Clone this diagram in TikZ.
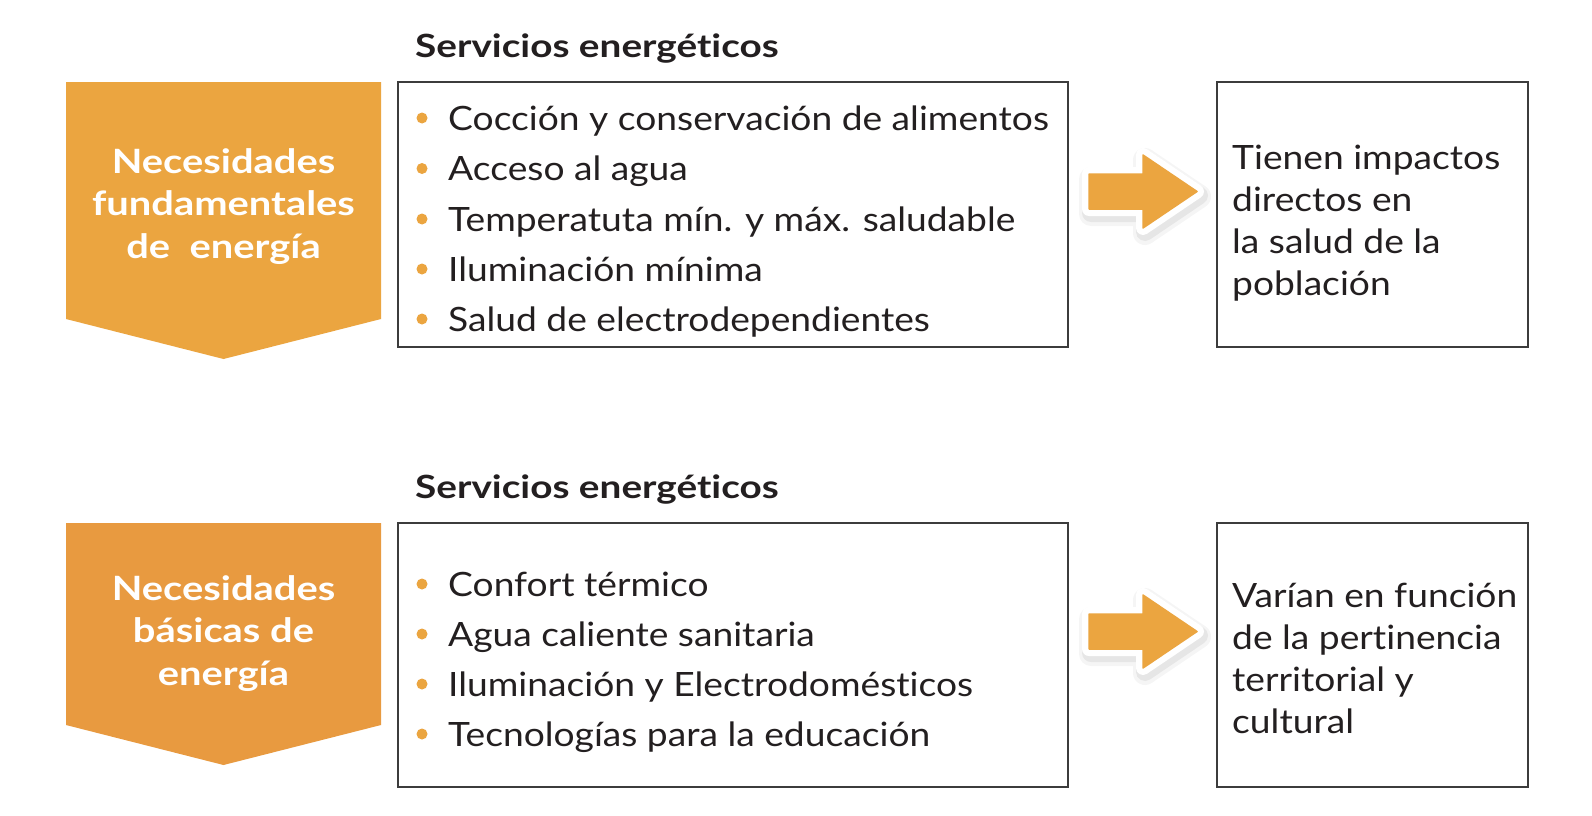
\documentclass[tikz,border=0pt]{standalone}
\usepackage{fontspec}
\setmainfont{Lato}[Ligatures=NoCommon]
\newfontfamily\bodyfont{Lato}[FakeStretch=1.11, Ligatures=NoCommon]
\newfontfamily\headfont{Lato}[FakeStretch=1.21, Ligatures=NoCommon]
\newfontfamily\pentafont{Lato}[FakeStretch=1.19, Ligatures=NoCommon]
\definecolor{orangeA}{HTML}{EBA540}
\definecolor{orangeB}{HTML}{E89A40}
\definecolor{textc}{HTML}{231F20}
\definecolor{borderc}{HTML}{3C3C3C}
\tikzset{
  box/.style={draw=borderc, line width=1.2pt, fill=white, inner sep=0pt},
  heading/.style={anchor=base west, inner sep=0pt, text=textc, font=\headfont\fontsize{32}{40}\selectfont\bfseries},
  item/.style={anchor=base west, inner sep=0pt, text=textc, font=\bodyfont\fontsize{33.5}{42}\selectfont},
  bulletdot/.style={fill=orangeA, draw=none},
  righttext/.style={anchor=base west, inner sep=0pt, text=textc, font=\bodyfont\fontsize{33.5}{42}\selectfont},
  pentatext/.style={anchor=base, inner sep=0pt, text=white, font=\pentafont\fontsize{33.5}{42.5}\selectfont\bfseries},
  blockarrow/.pic={
    \path[fill=black, opacity=0.04, line width=24pt, draw=black, line join=round, shift={(2,5)}]
      (0,-17.5) -- (54,-17.5) -- (54,-36.5) -- (108,0) -- (54,36.5) -- (54,17.5) -- (0,17.5) -- cycle;
    \path[fill=black, opacity=0.06, line width=18pt, draw=black, line join=round, shift={(2,4)}]
      (0,-17.5) -- (54,-17.5) -- (54,-36.5) -- (108,0) -- (54,36.5) -- (54,17.5) -- (0,17.5) -- cycle;
    \path[fill=white, draw=white, line width=14pt, line join=round]
      (0,-17.5) -- (54,-17.5) -- (54,-36.5) -- (108,0) -- (54,36.5) -- (54,17.5) -- (0,17.5) -- cycle;
    \path[fill=orangeA, draw=orangeA, line width=1.5pt, line join=round]
      (0,-17.5) -- (54,-17.5) -- (54,-36.5) -- (108,0) -- (54,36.5) -- (54,17.5) -- (0,17.5) -- cycle;
  }
}
\begin{document}
\begin{tikzpicture}[x=1pt, y={(0,-1pt)}]
\useasboundingbox[fill=white] (0,0) rectangle (1592,816);

% ---------- top row ----------
\fill[orangeA] (66,82) -- (381,82) -- (381,319) -- (223.5,359) -- (66,319) -- cycle;
\node[pentatext] (p1) at (223.5,173) {\begin{tabular}[t]{@{}c@{}}Necesidades\\fundamentales\\de\ \ energía\end{tabular}};

\node[heading] (h1) at (415,57) {Servicios energéticos};
\node[box, minimum width=670pt, minimum height=265pt] (b1) at (733,214.5) {};
\node[item] (i11) at (448,130) {Cocción y conservación de alimentos};
\node[item] (i12) at (448,180.5) {Acceso al agua};
\node[item] (i13) at (448,231) {Temperatuta mín. y máx. saludable};
\node[item] (i14) at (448,281) {Iluminación mínima};
\node[item] (i15) at (448,331) {Salud de electrodependientes};
\foreach \yy in {130,180.5,231,281,331} \fill[bulletdot] (422,\yy-12) circle (5.5);

\node[box, minimum width=311pt, minimum height=265pt] (r1) at (1372.5,214.5) {};
\node[righttext] (rt1) at (1232,169) {\begin{tabular}[t]{@{}l@{}}Tienen impactos\\directos en\\la salud de la\\población\end{tabular}};

\pic (a1) at (1089,191.5) {blockarrow};

% ---------- bottom row ----------
\fill[orangeB] (66,523) -- (381,523) -- (381,725) -- (223.5,765) -- (66,725) -- cycle;
\node[pentatext] (p2) at (223.5,600) {\begin{tabular}[t]{@{}c@{}}Necesidades\\básicas de\\energía\end{tabular}};

\node[heading] (h2) at (415,498) {Servicios energéticos};
\node[box, minimum width=670pt, minimum height=264pt] (b2) at (733,655) {};
\node[item] (i21) at (448,596) {Confort térmico};
\node[item] (i22) at (448,646) {Agua caliente sanitaria};
\node[item] (i23) at (448,696) {Iluminación y Electrodomésticos};
\node[item] (i24) at (448,746) {Tecnologías para la educación};
\foreach \yy in {596,646,696,746} \fill[bulletdot] (422,\yy-12) circle (5.5);

\node[box, minimum width=311pt, minimum height=264pt] (r2) at (1372.5,655) {};
\node[righttext] (rt2) at (1232,607) {\begin{tabular}[t]{@{}l@{}}Varían en función\\de la pertinencia\\territorial y\\cultural\end{tabular}};

\pic (a2) at (1089,631.5) {blockarrow};
\end{tikzpicture}
\end{document}
